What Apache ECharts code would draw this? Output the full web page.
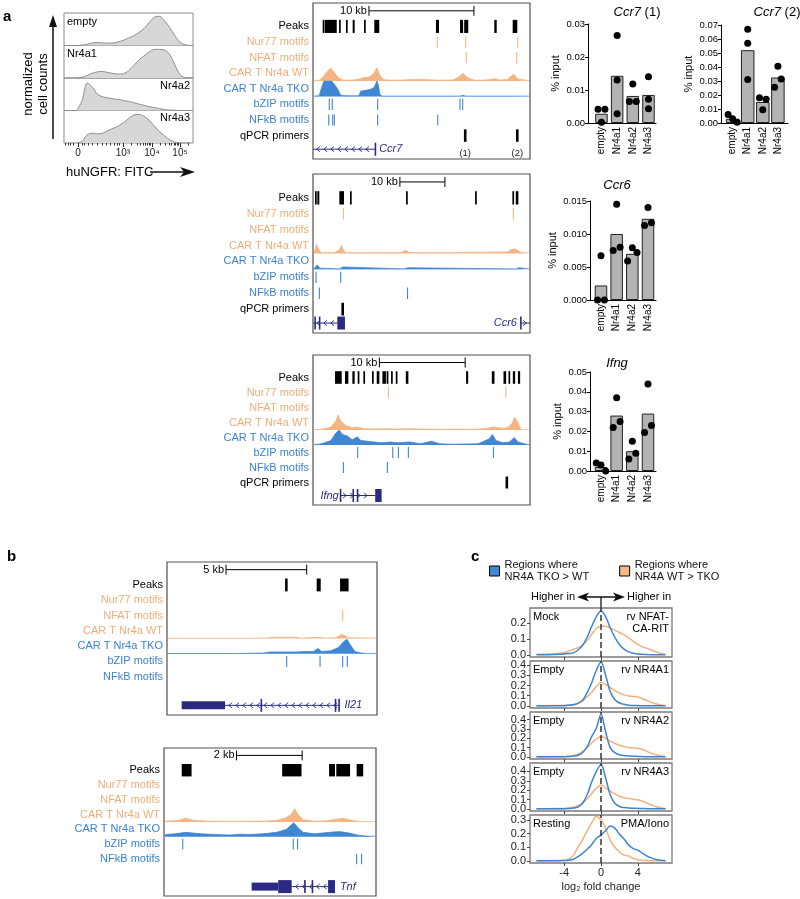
<!DOCTYPE html>
<html><head><meta charset="utf-8">
<script src="https://cdn.jsdelivr.net/npm/echarts@6/dist/echarts.min.js"></script>
<style>html,body{margin:0;padding:0;background:#fff}#c{width:800px;height:899px}</style>
</head><body><div id="c"></div>
<script>
// ================= DATA =================
// Panel a: flow histograms (display units of the biexponential axis)
const histSamples = ['empty','Nr4a1','Nr4a2','Nr4a3'];
const histX = [10,14,18,22,26,30,34,38,42,46,50,54,58,62,66,70,74,78,82,86,90,94,98];
const histEmpty = [0,0.01,0.04,0.08,0.09,0.08,0.07,0.08,0.11,0.16,0.23,0.3,0.4,0.52,0.7,0.87,0.9,0.76,0.55,0.3,0.1,0.02,0];
const histNr4a1 = [0,0.02,0.08,0.15,0.19,0.2,0.17,0.14,0.12,0.13,0.22,0.38,0.55,0.68,0.8,0.88,0.88,0.86,0.72,0.4,0.1,0.01,0];
const histNr4a2 = [0,0.3,0.85,0.72,0.5,0.42,0.39,0.36,0.34,0.31,0.28,0.24,0.2,0.16,0.12,0.09,0.06,0.03,0.015,0.005,0,0,0];
const histNr4a3 = [0,0.05,0.25,0.3,0.28,0.3,0.38,0.45,0.52,0.62,0.75,0.86,0.88,0.82,0.7,0.52,0.35,0.22,0.1,0.03,0,0,0];
const histTickLabels = ['0','10³','10⁴','10⁵'];
const histTickValues = [10.9,45.7,68.2,89.9];

// Panel a: ChIP-qPCR
const chipCats = ['empty','Nr4a1','Nr4a2','Nr4a3'];
const ccr7aBars = [0.0028,0.0143,0.0082,0.0085];
const ccr7aDots = [[0.0042,0.0042,0.0002],[0.0265,0.013,0.0028],[0.0118,0.0065,0.0065],[0.014,0.0072,0.0043]];
const ccr7bBars = [0.003,0.052,0.015,0.0325];
const ccr7bDots = [[0.006,0.003,0.0005],[0.067,0.057,0.031],[0.018,0.017,0.0095],[0.0405,0.0255,0.0315]];
const ccr6Bars = [0.0022,0.010,0.007,0.0123];
const ccr6Dots = [[0.0067,0,0],[0.0145,0.0075,0.008],[0.0059,0.0079,0.0072],[0.014,0.0113,0.0117]];
const ifngBars = [0.002,0.028,0.010,0.029];
const ifngDots = [[0.004,0.003,0.0],[0.037,0.022,0.025],[0.015,0.006,0.009],[0.044,0.0195,0.023]];

// Genome browser tracks (kb from left edge of view)
const ccr7Peaks = [[0.92,1.02],[1.12,2.26],[2.48,2.64],[3.14,3.30],[3.78,3.97],[4.86,5.02],[5.84,6.31],[11.71,12.0],[14.0,14.3],[14.4,14.79],[17.27,17.5],[19.02,19.46]];
const ccr7Nur77 = [11.84,14.54,19.5];
const ccr7Nfat = [14.6,19.4];
const ccr7Bzip = [1.55,1.84,6.16,14.0,14.26];
const ccr7Nfkb = [1.50,1.88,2.03,6.16,11.88];
const ccr7Qpcr = [14.5,19.46];
const ccr7QpcrLabels = ['(1)','(2)'];
const ccr7WT = [[0,0.03],[0.5,0.05],[0.8,0.2],[1.2,0.55],[1.6,0.83],[1.9,0.6],[2.3,0.25],[2.7,0.08],[3.2,0.05],[3.8,0.06],[4.3,0.12],[4.8,0.22],[5.3,0.25],[5.7,0.45],[6.05,0.85],[6.3,0.4],[6.7,0.08],[7.5,0.05],[8.5,0.06],[9.3,0.1],[10.2,0.11],[11.0,0.08],[11.8,0.06],[12.6,0.05],[13.4,0.08],[13.9,0.25],[14.3,0.5],[14.8,0.2],[15.4,0.06],[16.2,0.05],[16.9,0.1],[17.4,0.15],[17.9,0.06],[18.6,0.1],[19.2,0.45],[19.6,0.12],[20.67,0.03]];
const ccr7TKO = [[0,0.03],[0.5,0.06],[0.7,0.5],[0.95,1.0],[1.7,1.0],[2.0,0.75],[2.3,0.45],[2.55,0.1],[2.8,0.06],[3.5,0.05],[4.3,0.05],[4.5,0.35],[4.9,0.4],[5.4,0.45],[5.8,0.6],[6.05,1.0],[6.2,0.7],[6.35,0.1],[6.6,0.03],[14.0,0.03],[14.3,0.08],[14.6,0.03],[19.2,0.03],[19.3,0.08],[19.4,0.03],[20.67,0.03]];
const ccr7Genes = [{name:'Ccr7', strand:-1, intron:[0,5.9], utr:[], cds:[[5.87,5.93]], labelAt:6.3, labelSide:'right'}];

const ccr6Peaks = [[0.44,0.73],[0.96,1.4],[5.85,6.89],[8.22,8.38],[20.67,20.82],[36.0,36.16],[44.29,44.67],[45.04,45.62]];
const ccr6Nur77 = [6.74,44.5];
const ccr6Nfat = [];
const ccr6Bzip = [0.67,6.15];
const ccr6Nfkb = [1.41,21.0];
const ccr6Qpcr = [6.6];
const ccr6WT = [[0,0.05],[0.3,0.3],[0.6,0.58],[0.9,0.35],[1.3,0.15],[1.8,0.05],[3,0.06],[4.5,0.05],[5.6,0.2],[6.15,0.5],[6.6,0.2],[7.2,0.05],[12,0.05],[19.5,0.06],[20.6,0.2],[21.2,0.06],[30,0.05],[36.1,0.08],[43.5,0.1],[44.2,0.25],[45.2,0.28],[46,0.12],[46.6,0.05],[48.2,0.05]];
const ccr6TKO = [[0,0.03],[0.4,0.1],[0.7,0.28],[1.0,0.28],[1.3,0.08],[1.6,0.03],[5.7,0.03],[5.9,0.15],[6.5,0.15],[6.7,0.03],[20.2,0.03],[20.4,0.1],[21.0,0.1],[21.2,0.03],[45.3,0.03],[45.5,0.1],[46.0,0.1],[46.2,0.03],[48.2,0.03]];
const ccr6Genes = [
  {name:'', strand:-1, intron:[0,5.4], utr:[], cds:[[0.3,0.42],[1.3,1.42],[5.4,7.1]], labelAt:0, labelSide:'right'},
  {name:'Ccr6', strand:1, intron:[46.0,48.2], utr:[], cds:[[46.0,46.12]], labelAt:45.3, labelSide:'left'}
];

const ifngPeaks = [[2.57,3.35],[3.73,4.12],[4.59,4.86],[5.21,5.41],[5.87,6.07],[6.88,7.08],[7.43,7.74],[8.09,8.5],[8.58,8.79],[9.10,9.30],[9.65,9.84],[10.82,11.12],[17.85,18.09],[20.85,21.16],[22.21,22.52],[22.79,22.99],[23.3,23.57],[23.89,24.15]];
const ifngNur77 = [8.79,22.48];
const ifngNfat = [];
const ifngBzip = [5.21,9.30,9.96,11.12,21.04];
const ifngNfkb = [3.54,8.67];
const ifngQpcr = [22.6];
const ifngWT = [[0,0.02],[0.3,0.03],[1.0,0.05],[1.98,0.2],[2.57,0.6],[2.84,1.0],[3.15,0.6],[3.73,0.3],[4.5,0.15],[5.1,0.2],[5.87,0.08],[7,0.07],[8.5,0.08],[9.5,0.06],[11,0.08],[13,0.06],[15,0.05],[17,0.06],[19,0.05],[20.3,0.1],[21.0,0.2],[21.8,0.15],[22.4,0.12],[22.9,0.2],[23.3,0.45],[23.6,0.85],[23.9,0.6],[24.15,0.3],[24.35,0.02],[25.3,0.02]];
const ifngTKO = [[0,0.03],[0.5,0.05],[1.0,0.1],[2.0,0.3],[2.57,0.8],[2.96,1.0],[3.35,0.7],[3.93,0.6],[4.5,0.35],[5.1,0.55],[5.5,0.3],[6.3,0.25],[7.08,0.2],[7.86,0.15],[9.0,0.2],[9.8,0.15],[11.3,0.2],[12.5,0.08],[13.8,0.25],[14.8,0.08],[16.3,0.05],[19.3,0.08],[20.6,0.4],[21.0,0.7],[21.4,0.3],[22.2,0.15],[23.0,0.2],[23.57,0.5],[24.0,0.2],[25.0,0.05],[25.3,0.03]];
const ifngGenes = [{name:'Ifng', strand:1, intron:[3.15,7.25], utr:[], cds:[[3.12,3.24],[4.6,4.7],[5.1,5.15],[7.25,8.0]], labelAt:3.0, labelSide:'left'}];

const il21Peaks = [[7.32,7.48],[9.28,9.53],[10.73,11.26]];
const il21Nur77 = [];
const il21Nfat = [10.89];
const il21Bzip = [7.42,9.49,10.89,11.18];
const il21Nfkb = [];
const il21WT = [[0,0.02],[6.2,0.02],[6.4,0.08],[8.1,0.08],[8.3,0.02],[9.0,0.06],[9.6,0.06],[9.8,0.02],[10.5,0.05],[10.9,0.28],[11.3,0.05],[13.02,0.02]];
const il21TKO = [[0,0.02],[4.4,0.02],[4.5,0.05],[6.0,0.05],[6.4,0.12],[8.1,0.12],[8.5,0.15],[9.1,0.15],[9.4,0.35],[9.6,0.15],[10.2,0.2],[10.65,0.4],[11.0,0.8],[11.2,0.95],[11.4,0.6],[11.7,0.15],[12.1,0.05],[12.5,0.01],[13.02,0.01]];
const il21Genes = [{name:'Il21', strand:-1, intron:[3.6,10.7], utr:[[0.91,3.6]], cds:[[5.8,5.88],[10.4,10.45],[10.62,10.7]], labelAt:11.0, labelSide:'right'}];

const tnfPeaks = [[0.54,0.84],[3.60,4.19],[5.03,5.21],[5.25,5.67],[5.87,6.07]];
const tnfNur77 = [];
const tnfNfat = [];
const tnfBzip = [0.57,3.94,4.07];
const tnfNfkb = [5.87,6.02];
const tnfWT = [[0,0.05],[0.4,0.1],[0.64,0.25],[0.9,0.1],[1.5,0.05],[2.5,0.05],[3.1,0.06],[3.43,0.1],[3.73,0.3],[3.88,0.5],[3.99,0.9],[4.09,0.5],[4.25,0.15],[4.6,0.05],[5.0,0.08],[5.46,0.25],[5.8,0.08],[6.07,0.02],[6.46,0.02]];
const tnfTKO = [[0,0.15],[0.3,0.2],[0.64,0.3],[1.1,0.2],[1.6,0.15],[2.0,0.12],[2.3,0.18],[2.6,0.15],[3.0,0.2],[3.43,0.3],[3.73,0.5],[3.96,0.95],[4.1,0.6],[4.25,0.3],[4.6,0.2],[5.06,0.3],[5.36,0.35],[5.67,0.25],[5.95,0.1],[6.28,0.03],[6.46,0.05]];
const tnfGenes = [{name:'Tnf', strand:-1, intron:[3.89,5.0], utr:[[2.67,3.48]], cds:[[3.48,3.89],[4.27,4.31],[4.5,4.54],[5.0,5.21]], labelAt:5.36, labelSide:'right'}];

// Panel c: density of log2 fold change
const densX = [-7,-6,-5,-4,-3.5,-3,-2.5,-2,-1.5,-1,-0.5,0,0.5,1,1.5,2,2.5,3,3.5,4,4.5,5,5.5,6,6.5,7];
const densMockTKO = [0,0,0.002,0.005,0.008,0.012,0.03,0.06,0.11,0.18,0.24,0.275,0.24,0.17,0.11,0.065,0.035,0.018,0.01,0.005,0.003,0.001,0,0,0,0];
const densMockWT  = [0.003,0.004,0.006,0.013,0.022,0.035,0.045,0.06,0.09,0.13,0.165,0.18,0.18,0.168,0.155,0.14,0.125,0.105,0.085,0.065,0.05,0.04,0.03,0.018,0.008,0.002];
const densNR4A1TKO = [0,0,0,0.002,0.005,0.012,0.025,0.055,0.13,0.23,0.35,0.43,0.3,0.14,0.06,0.028,0.015,0.007,0.004,0.002,0,0,0,0,0,0];
const densNR4A1WT  = [0.002,0.002,0.003,0.005,0.008,0.012,0.025,0.05,0.09,0.135,0.19,0.23,0.21,0.18,0.15,0.125,0.108,0.098,0.093,0.088,0.07,0.05,0.032,0.018,0.008,0.003];
const densNR4A2TKO = [0,0,0,0.002,0.004,0.008,0.018,0.045,0.11,0.22,0.31,0.46,0.27,0.1,0.045,0.022,0.013,0.01,0.007,0.005,0.003,0.002,0,0,0,0];
const densNR4A2WT  = [0.002,0.002,0.003,0.004,0.008,0.015,0.03,0.06,0.1,0.15,0.19,0.22,0.2,0.17,0.145,0.125,0.11,0.1,0.096,0.092,0.08,0.058,0.038,0.022,0.01,0.004];
const densNR4A3TKO = [0,0,0,0.002,0.004,0.008,0.02,0.06,0.15,0.29,0.4,0.47,0.33,0.15,0.06,0.025,0.014,0.01,0.007,0.005,0.003,0.002,0,0,0,0];
const densNR4A3WT  = [0.002,0.002,0.003,0.005,0.01,0.018,0.033,0.06,0.105,0.165,0.22,0.255,0.225,0.19,0.16,0.135,0.12,0.11,0.103,0.097,0.082,0.062,0.04,0.022,0.01,0.004];
const densPMATKO = [0,0,0,0.002,0.004,0.012,0.03,0.055,0.085,0.12,0.165,0.19,0.22,0.255,0.24,0.195,0.16,0.115,0.09,0.078,0.055,0.035,0.02,0.01,0.004,0.001];
const densPMAWT  = [0.001,0.001,0.002,0.003,0.012,0.04,0.1,0.155,0.22,0.28,0.325,0.3,0.24,0.15,0.1,0.065,0.042,0.035,0.018,0.008,0.004,0.002,0.001,0.001,0,0];
const densLeftLabels = ['Mock','Empty','Empty','Empty','Resting'];
const densRightLabels = ['rv NFAT-\nCA-RIT','rv NR4A1','rv NR4A2','rv NR4A3','PMA/Iono'];
const densYTicks = [[0,0.1,0.2],[0,0.1,0.2,0.3,0.4],[0,0.1,0.2,0.3,0.4],[0,0.1,0.2,0.3,0.4],[0,0.1,0.2,0.3]];
const densXTicks = [-4,0,4];
const legendNames = ['Regions where\nNR4A TKO > WT','Regions where\nNR4A WT > TKO'];

// ================= STYLE / LAYOUT =================
const FONT = '"Liberation Sans", Arial, Helvetica, sans-serif';
const ORANGE = '#f5b583', BLUE = '#3f86d5', NAVY = '#2b2a82';
const ORANGE_TXT = '#f0ad78', BLUE_TXT = '#3b82d2';
const grid = [], xAxis = [], yAxis = [], series = [], graphic = [];
function addGrid(g, xa, ya) {
  const gi = grid.length; grid.push(g);
  xa.gridIndex = gi; ya.gridIndex = gi; xAxis.push(xa); yAxis.push(ya);
  return {gi, xi: xAxis.length - 1, yi: yAxis.length - 1};
}
function txt(x, y, text, o) {
  o = o || {};
  const a = o.align || 'left', va = o.va || 'middle';
  const st = {text, fill: o.fill || '#000', fontSize: o.size || 11, fontFamily: FONT,
    fontStyle: o.italic ? 'italic' : 'normal', fontWeight: o.bold ? 'bold' : 'normal',
    align: a, textAlign: a, verticalAlign: va, textVerticalAlign: va};
  if (o.lineHeight) st.lineHeight = o.lineHeight;
  if (o.rich) st.rich = o.rich;
  const el = {type: 'text', x, y, silent: true, z: 50, style: st};
  if (o.rotation) el.rotation = o.rotation;
  return el;
}

// ---------- histograms ----------
const histArrs = [histEmpty, histNr4a1, histNr4a2, histNr4a3];
const hist = {left: 64, top: 13, width: 129, rowH: 32.5};
const histMinor = [];
for (let d = 1; d < 3; d++) {
  const a = histTickValues[d], b = histTickValues[d + 1];
  for (let k = 2; k <= 9; k++) histMinor.push(a + Math.log10(k) * (b - a));
}
[2, 3].forEach(k => { const v = histTickValues[3] + Math.log10(k) * (histTickValues[3] - histTickValues[2]); if (v < 100) histMinor.push(v); });
[1, 3, 5, 7, 14, 16, 19, 22, 26, 30, 33, 36, 39, 41, 43].forEach(v => histMinor.push(v));
histArrs.forEach((arr, i) => {
  const last = i === histArrs.length - 1;
  const g = addGrid({left: hist.left, top: hist.top + i * hist.rowH, width: hist.width, height: hist.rowH, show: true, borderColor: '#8a8a8a', borderWidth: 1},
    {type: 'value', min: 0, max: 100, show: last, axisLine: {show: false, onZero: false}, splitLine: {show: false},
     axisTick: {show: true, customValues: histTickValues, length: 4, lineStyle: {color: '#222'}},
     axisLabel: {customValues: histTickValues, fontSize: 10, color: '#222', margin: 5, fontFamily: FONT, showMinLabel: true, showMaxLabel: true, hideOverlap: false,
       formatter: v => { let bi = 0; histTickValues.forEach((t, j) => { if (Math.abs(t - v) < Math.abs(histTickValues[bi] - v)) bi = j; }); return histTickLabels[bi]; }}},
    {type: 'value', min: 0, max: 1, show: false, axisLine: {onZero: false}});
  series.push({type: 'line', xAxisIndex: g.xi, yAxisIndex: g.yi, data: histX.map((x, j) => [x, arr[j]]), smooth: 0.3,
    showSymbol: false, silent: true, lineStyle: {color: '#8e8e8e', width: 1}, areaStyle: {color: '#d7d7d7', opacity: 1}});
  if (last) {
    xAxis.push({gridIndex: g.gi, type: 'value', min: 0, max: 100, position: 'bottom', axisLine: {show: false, onZero: false},
      axisLabel: {show: false}, splitLine: {show: false}, axisTick: {show: true, customValues: histMinor, length: 2.5, lineStyle: {color: '#333'}}});
  }
});
graphic.push(txt(67, 22, histSamples[0]));
graphic.push(txt(67, 54, histSamples[1]));
graphic.push(txt(190, 86, histSamples[2], {align: 'right'}));
graphic.push(txt(190, 118, histSamples[3], {align: 'right'}));
graphic.push(txt(36, 84, 'normalized\ncell counts', {align: 'center', size: 13, lineHeight: 15, rotation: Math.PI / 2}));
graphic.push({type: 'line', silent: true, shape: {x1: 53, y1: 139, x2: 53, y2: 24}, style: {stroke: '#111', lineWidth: 1.5}});
graphic.push({type: 'polygon', silent: true, shape: {points: [[53, 15], [49, 27], [57, 27]]}, style: {fill: '#111'}});
graphic.push(txt(66, 172, 'huNGFR: FITC', {size: 13}));
graphic.push({type: 'line', silent: true, shape: {x1: 150, y1: 172, x2: 184, y2: 172}, style: {stroke: '#111', lineWidth: 1.5}});
graphic.push({type: 'polygon', silent: true, shape: {points: [[195, 172], [180, 167], [184, 172], [180, 177]]}, style: {fill: '#111'}});
graphic.push(txt(3, 17, 'a', {bold: true, size: 15}));
graphic.push(txt(7, 557, 'b', {bold: true, size: 15}));
graphic.push(txt(471, 557, 'c', {bold: true, size: 15}));

// ---------- ChIP bar charts ----------
function jitter(vals, ymax) {
  const thr = ymax * 0.09, off = vals.map(() => 0);
  const idx = vals.map((v, i) => i).sort((a, b) => vals[a] - vals[b]);
  const clusters = []; let cur = [idx[0]];
  for (let k = 1; k < idx.length; k++) {
    if (vals[idx[k]] - vals[cur[cur.length - 1]] < thr) cur.push(idx[k]); else { clusters.push(cur); cur = [idx[k]]; }
  }
  clusters.push(cur);
  clusters.forEach(c => {
    if (c.length < 2) return;
    c.sort((a, b) => a - b);
    const sp = c.length === 2 ? 0.44 : 0.3;
    c.forEach((ix, j) => { off[ix] = (j - (c.length - 1) / 2) * sp; });
  });
  return off;
}
function addChip(cfg) {
  const g = addGrid({left: cfg.left, top: cfg.top, width: cfg.width, height: cfg.height, show: false},
    {type: 'value', min: cfg.xmin, max: cfg.xmax, axisLine: {show: true, onZero: false, lineStyle: {color: '#000', width: 1}},
     axisTick: {show: false}, splitLine: {show: false},
     axisLabel: {customValues: [0, 1, 2, 3], formatter: v => chipCats[Math.round(v)], rotate: 90, fontSize: 10, color: '#000', margin: 4, fontFamily: FONT, hideOverlap: false}},
    {type: 'value', min: 0, max: cfg.ymax, interval: cfg.step, axisLine: {show: true, onZero: false, lineStyle: {color: '#000', width: 1}},
     axisTick: {show: true, length: 3, lineStyle: {color: '#000'}}, splitLine: {show: false},
     axisLabel: {formatter: v => v.toFixed(cfg.dec), fontSize: 9.5, color: '#000', margin: 3, fontFamily: FONT, showMinLabel: true, showMaxLabel: true, hideOverlap: false},
     name: '% input', nameLocation: 'middle', nameGap: cfg.nameGap, nameRotate: 90,
     nameTextStyle: {fontSize: 11, color: '#000', fontFamily: FONT}});
  series.push({type: 'bar', xAxisIndex: g.xi, yAxisIndex: g.yi, data: cfg.bars.map((v, i) => [i, v]), barWidth: cfg.barWidth,
    itemStyle: {color: '#b3b3b3', borderColor: '#222', borderWidth: 1}, silent: true});
  const pts = [];
  cfg.dots.forEach((arr, i) => { const off = jitter(arr, cfg.ymax); arr.forEach((v, j) => pts.push([i + off[j], v])); });
  series.push({type: 'scatter', xAxisIndex: g.xi, yAxisIndex: g.yi, data: pts, symbolSize: 7, itemStyle: {color: '#000', opacity: 1}, z: 3, silent: true, clip: false});
  graphic.push(txt(cfg.titleX, cfg.titleY, '{i|' + cfg.gene + '}' + (cfg.suffix || ''), {align: 'center', size: 13,
    rich: {i: {fontStyle: 'italic', fontSize: 13, fontFamily: FONT, fill: '#000'}}}));
}
addChip({left: 588, top: 24, width: 68, height: 99, xmin: -0.86, xmax: 3.48, ymax: 0.03, step: 0.01, dec: 2, nameGap: 27, barWidth: 12.5, bars: ccr7aBars, dots: ccr7aDots, gene: 'Ccr7', suffix: ' (1)', titleX: 637, titleY: 12});
addChip({left: 721, top: 25, width: 67, height: 98, xmin: -0.77, xmax: 3.67, ymax: 0.07, step: 0.01, dec: 2, nameGap: 27, barWidth: 13.5, bars: ccr7bBars, dots: ccr7bDots, gene: 'Ccr7', suffix: ' (2)', titleX: 777, titleY: 12});
addChip({left: 590, top: 201, width: 66, height: 99, xmin: -0.7, xmax: 3.51, ymax: 0.015, step: 0.005, dec: 3, nameGap: 32, barWidth: 12.5, bars: ccr6Bars, dots: ccr6Dots, gene: 'Ccr6', titleX: 617, titleY: 185});
addChip({left: 590, top: 372, width: 66, height: 99, xmin: -0.7, xmax: 3.51, ymax: 0.05, step: 0.01, dec: 2, nameGap: 27, barWidth: 12.5, bars: ifngBars, dots: ifngDots, gene: 'Ifng', titleX: 617, titleY: 363});

// ---------- genome browser ----------
const ROW_KEYS = ['scale', 'peaks', 'nur77', 'nfat', 'wt', 'tko', 'bzip', 'nfkb', 'qpcr', 'gene'];
const ROW_NAMES = {peaks: 'Peaks', nur77: 'Nur77 motifs', nfat: 'NFAT motifs', wt: 'CAR T Nr4a WT', tko: 'CAR T Nr4a TKO', bzip: 'bZIP motifs', nfkb: 'NFkB motifs', qpcr: 'qPCR primers'};
const ROW_COLOR = {scale: '#000', peaks: '#000', nur77: ORANGE_TXT, nfat: ORANGE_TXT, wt: ORANGE_TXT, tko: BLUE_TXT, bzip: BLUE_TXT, nfkb: BLUE_TXT, qpcr: '#000', gene: '#000'};
const R = k => ROW_KEYS.indexOf(k);

function renderTrack(params, api, items) {
  const it = items[params.dataIndex];
  const k = api.value(3), row = api.value(1);
  const p1 = api.coord([api.value(0), row]);
  const p2 = api.coord([api.value(2), row]);
  const bh = api.size([0, 1])[1];
  let y = p1[1];
  if (row === R('gene')) y -= 2;
  switch (k) {
    case 0: return {type: 'rect', shape: {x: p1[0], y: y - bh * 0.42, width: Math.max(p2[0] - p1[0], 1.7), height: bh * 0.84}, style: {fill: '#000'}};
    case 1: {
      const col = (row === R('nur77') || row === R('nfat')) ? ORANGE : BLUE;
      return {type: 'line', shape: {x1: p1[0], y1: y - bh * 0.36, x2: p1[0], y2: y + bh * 0.36}, style: {stroke: col, lineWidth: 1.1}};
    }
    case 2: return {type: 'rect', shape: {x: p1[0] - 1.3, y: y - bh * 0.4, width: 2.6, height: bh * 0.8}, style: {fill: '#000'}};
    case 3: return {type: 'rect', shape: {x: p1[0], y: y - 6.5, width: Math.max(p2[0] - p1[0], 1.6), height: 13}, style: {fill: NAVY}};
    case 4: return {type: 'rect', shape: {x: p1[0], y: y - 4, width: p2[0] - p1[0], height: 8}, style: {fill: NAVY}};
    case 5: {
      const s = api.value(4), ch = [];
      ch.push({type: 'line', shape: {x1: p1[0], y1: y, x2: p2[0], y2: y}, style: {stroke: NAVY, lineWidth: 1}});
      for (let x = p1[0] + 5; x < p2[0] - 3; x += 7) {
        ch.push({type: 'polyline', shape: {points: [[x - s * 2, y - 2.6], [x + s * 1.2, y], [x - s * 2, y + 2.6]]}, style: {stroke: NAVY, lineWidth: 0.9, fill: null}});
      }
      return {type: 'group', children: ch};
    }
    case 6: return {type: 'group', children: [
      {type: 'line', shape: {x1: p1[0], y1: y, x2: p2[0], y2: y}, style: {stroke: '#000', lineWidth: 1}},
      {type: 'line', shape: {x1: p1[0], y1: y - 5, x2: p1[0], y2: y + 5}, style: {stroke: '#000', lineWidth: 1}},
      {type: 'line', shape: {x1: p2[0], y1: y - 5, x2: p2[0], y2: y + 5}, style: {stroke: '#000', lineWidth: 1}},
      {type: 'text', x: p1[0] - 2, y: y, style: {text: it.text, fill: '#000', fontSize: 11, fontFamily: FONT, align: 'right', textAlign: 'right', verticalAlign: 'middle', textVerticalAlign: 'middle'}}
    ]};
    case 7: {
      const side = api.value(4) < 0 ? 'right' : 'left';
      return {type: 'text', x: p1[0], y: y, style: {text: it.text, fill: NAVY, fontSize: 11, fontStyle: 'italic', fontFamily: FONT, align: side, textAlign: side, verticalAlign: 'middle', textVerticalAlign: 'middle'}};
    }
    case 8: return {type: 'text', x: p1[0], y: y + 4, style: {text: it.text, fill: '#222', fontSize: 9.5, fontFamily: FONT, align: 'center', textAlign: 'center', verticalAlign: 'middle', textVerticalAlign: 'middle'}};
  }
  return null;
}

function addLocus(L) {
  const b = L.box;
  const g = addGrid({left: b.left, top: b.top, width: b.width, height: b.height, show: true, borderColor: '#505050', borderWidth: 1.2, backgroundColor: 'transparent'},
    {type: 'value', min: 0, max: L.span, show: false},
    {type: 'category', data: ROW_KEYS, inverse: true, axisLine: {show: false}, axisTick: {show: false}, splitLine: {show: false},
     axisLabel: {fontSize: 11, margin: 4, fontFamily: FONT, interval: 0, hideOverlap: false,
       formatter: k => (k === 'qpcr' && !L.showQpcr) ? '' : (ROW_NAMES[k] || ''),
       color: k => ROW_COLOR[k] || '#000'}});
  const items = [];
  items.push({v: [L.scaleStart, R('scale'), L.scaleStart + L.scaleKb, 6, 0], text: L.scaleKb + ' kb'});
  L.peaks.forEach(p => items.push({v: [p[0], R('peaks'), p[1], 0, 0]}));
  [['nur77', L.nur77], ['nfat', L.nfat], ['bzip', L.bzip], ['nfkb', L.nfkb]].forEach(([k, arr]) => arr.forEach(x => items.push({v: [x, R(k), x, 1, 0]})));
  (L.qpcr || []).forEach((x, i) => {
    items.push({v: [x, R('qpcr'), x, 2, 0]});
    if (L.qpcrLabels) items.push({v: [x, R('gene'), x, 8, 0], text: L.qpcrLabels[i]});
  });
  L.genes.forEach(ge => {
    items.push({v: [ge.intron[0], R('gene'), ge.intron[1], 5, ge.strand]});
    ge.utr.forEach(e => items.push({v: [e[0], R('gene'), e[1], 4, 0]}));
    ge.cds.forEach(e => items.push({v: [e[0], R('gene'), e[1], 3, 0]}));
    if (ge.name) items.push({v: [ge.labelAt, R('gene'), ge.labelAt, 7, ge.labelSide === 'left' ? -1 : 1], text: ge.name});
  });
  series.push({type: 'custom', xAxisIndex: g.xi, yAxisIndex: g.yi, data: items.map(d => d.v), encode: {x: [0, 2], y: 1},
    renderItem: (params, api) => renderTrack(params, api, items), silent: true, z: 5, clip: false});
  const bh = b.height / ROW_KEYS.length;
  [['wt', L.wt, ORANGE], ['tko', L.tko, BLUE]].forEach(([k, arr, col]) => {
    const c = addGrid({left: b.left + 1, width: b.width - 2, top: b.top + R(k) * bh, height: bh, show: false},
      {type: 'value', min: 0, max: L.span, show: false},
      {type: 'value', min: 0, max: 1, show: false});
    series.push({type: 'line', xAxisIndex: c.xi, yAxisIndex: c.yi, data: arr, showSymbol: false, silent: true,
      lineStyle: {color: col, width: 0.8}, areaStyle: {color: col, opacity: 1}, z: 2});
  });
}
addLocus({box: {left: 313, top: 3, width: 217, height: 156}, span: 20.67, scaleStart: 5.33, scaleKb: 10, showQpcr: true,
  peaks: ccr7Peaks, nur77: ccr7Nur77, nfat: ccr7Nfat, bzip: ccr7Bzip, nfkb: ccr7Nfkb, qpcr: ccr7Qpcr, qpcrLabels: ccr7QpcrLabels, wt: ccr7WT, tko: ccr7TKO, genes: ccr7Genes});
addLocus({box: {left: 313, top: 174, width: 217, height: 159}, span: 48.2, scaleStart: 19.3, scaleKb: 10, showQpcr: true,
  peaks: ccr6Peaks, nur77: ccr6Nur77, nfat: ccr6Nfat, bzip: ccr6Bzip, nfkb: ccr6Nfkb, qpcr: ccr6Qpcr, wt: ccr6WT, tko: ccr6TKO, genes: ccr6Genes});
addLocus({box: {left: 313, top: 355, width: 217, height: 150}, span: 25.3, scaleStart: 7.74, scaleKb: 10, showQpcr: true,
  peaks: ifngPeaks, nur77: ifngNur77, nfat: ifngNfat, bzip: ifngBzip, nfkb: ifngNfkb, qpcr: ifngQpcr, wt: ifngWT, tko: ifngTKO, genes: ifngGenes});
addLocus({box: {left: 167, top: 562, width: 210, height: 153}, span: 13.02, scaleStart: 3.66, scaleKb: 5, showQpcr: false,
  peaks: il21Peaks, nur77: il21Nur77, nfat: il21Nfat, bzip: il21Bzip, nfkb: il21Nfkb, qpcr: [], wt: il21WT, tko: il21TKO, genes: il21Genes});
addLocus({box: {left: 164, top: 748, width: 212, height: 148}, span: 6.46, scaleStart: 2.21, scaleKb: 2, showQpcr: false,
  peaks: tnfPeaks, nur77: tnfNur77, nfat: tnfNfat, bzip: tnfBzip, nfkb: tnfNfkb, qpcr: [], wt: tnfWT, tko: tnfTKO, genes: tnfGenes});

// ---------- density panels ----------
const densTKO = [densMockTKO, densNR4A1TKO, densNR4A2TKO, densNR4A3TKO, densPMATKO];
const densWT = [densMockWT, densNR4A1WT, densNR4A2WT, densNR4A3WT, densPMAWT];
const densLayout = [{top: 608, h: 49, ymin: -0.014, ymax: 0.294}, {top: 661, h: 47, ymin: -0.021, ymax: 0.441},
  {top: 712, h: 47, ymin: -0.023, ymax: 0.483}, {top: 763, h: 48, ymin: -0.023, ymax: 0.49}, {top: 815, h: 48, ymin: -0.016, ymax: 0.336}];
const densBox = {left: 530, width: 142};
let densGrid0 = null;
function densYAxis(P, ticks, gi) {
  return {gridIndex: gi, type: 'value', position: 'left', offset: 0, min: P.ymin, max: P.ymax,
    axisLine: {show: false, onZero: false}, splitLine: {show: false},
    axisTick: {show: true, customValues: ticks, length: 3, lineStyle: {color: '#444'}},
    axisLabel: {customValues: ticks, formatter: v => v.toFixed(1), fontSize: 11, color: '#222', margin: 4, fontFamily: FONT,
      showMinLabel: true, showMaxLabel: true, hideOverlap: false}};
}
densLayout.forEach((P, i) => {
  const last = i === densLayout.length - 1;
  const ticks = densYTicks[i];
  const evenTicks = ticks.filter((t, j) => j % 2 === 0), oddTicks = ticks.filter((t, j) => j % 2 === 1);
  const g = addGrid({left: densBox.left, top: P.top, width: densBox.width, height: P.h, show: true, borderColor: '#7b7b7b', borderWidth: 1.3},
    {type: 'value', min: -7.7, max: 7.7, axisLine: {show: false, onZero: false}, splitLine: {show: false},
     axisTick: {show: true, customValues: densXTicks, length: 3, lineStyle: {color: '#444'}},
     axisLabel: {show: last, customValues: densXTicks, fontSize: 11, color: '#222', margin: 4, fontFamily: FONT, showMinLabel: true, showMaxLabel: true, hideOverlap: false},
     name: last ? 'log₂ fold change' : '', nameLocation: 'middle', nameGap: 18, nameTextStyle: {fontSize: 11, color: '#222', fontFamily: FONT}},
    densYAxis(P, evenTicks, 0));
  yAxis.push(densYAxis(P, oddTicks, g.gi));
  if (i === 0) densGrid0 = g.gi;
  series.push({type: 'line', name: legendNames[1], xAxisIndex: g.xi, yAxisIndex: g.yi, data: densX.map((x, j) => [x, densWT[i][j]]),
    smooth: 0.35, showSymbol: false, silent: true, itemStyle: {color: '#f7b885'}, lineStyle: {color: '#f4b07c', width: 1.5}, z: 3});
  series.push({type: 'line', name: legendNames[0], xAxisIndex: g.xi, yAxisIndex: g.yi, data: densX.map((x, j) => [x, densTKO[i][j]]),
    smooth: 0.35, showSymbol: false, silent: true, itemStyle: {color: '#4286d8'}, lineStyle: {color: '#3d84d4', width: 1.5}, z: 4,
    markLine: {silent: true, symbol: 'none', label: {show: false}, lineStyle: {type: 'dashed', color: '#333', width: 1.5}, data: [{xAxis: 0}], animation: false}});
  graphic.push(txt(densBox.left + 3, P.top + 9, densLeftLabels[i]));
  graphic.push(txt(densBox.left + densBox.width - 3, P.top + (i === 0 ? 15 : 9), densRightLabels[i], {align: 'right', lineHeight: 12.5}));
});

const option = {
  animation: false,
  textStyle: {fontFamily: FONT},
  grid, xAxis, yAxis, series,
  legend: {left: 484, top: 554, itemWidth: 10, itemHeight: 10, itemGap: 30, icon: 'rect', selectedMode: false,
    data: [{name: legendNames[0], itemStyle: {color: '#4286d8', borderColor: '#000', borderWidth: 1}},
           {name: legendNames[1], itemStyle: {color: '#f7b885', borderColor: '#000', borderWidth: 1}}],
    textStyle: {fontSize: 11, lineHeight: 12, color: '#111', fontFamily: FONT}},
  graphic
};
const chart = echarts.init(document.getElementById('c'), null, {renderer: 'canvas', width: 800, height: 899});
chart.setOption(option);
// arrow above density panels, anchored to x = 0 of the first density grid
const x0 = chart.convertToPixel({gridIndex: densGrid0}, [0, 0])[0];
const yA = 597, topP = densLayout[0].top;
graphic.push({type: 'line', silent: true, shape: {x1: x0, y1: yA, x2: x0, y2: topP}, style: {stroke: '#333', lineWidth: 1.5}});
graphic.push({type: 'line', silent: true, shape: {x1: x0 - 16, y1: yA, x2: x0 + 16, y2: yA}, style: {stroke: '#111', lineWidth: 1.5}});
graphic.push({type: 'polygon', silent: true, shape: {points: [[x0 - 24, yA], [x0 - 12, yA - 4.5], [x0 - 15, yA], [x0 - 12, yA + 4.5]]}, style: {fill: '#111'}});
graphic.push({type: 'polygon', silent: true, shape: {points: [[x0 + 24, yA], [x0 + 12, yA - 4.5], [x0 + 15, yA], [x0 + 12, yA + 4.5]]}, style: {fill: '#111'}});
graphic.push(txt(x0 - 26, yA, 'Higher in', {align: 'right'}));
graphic.push(txt(x0 + 26, yA, 'Higher in', {align: 'left'}));
chart.setOption({graphic});
</script></body></html>
